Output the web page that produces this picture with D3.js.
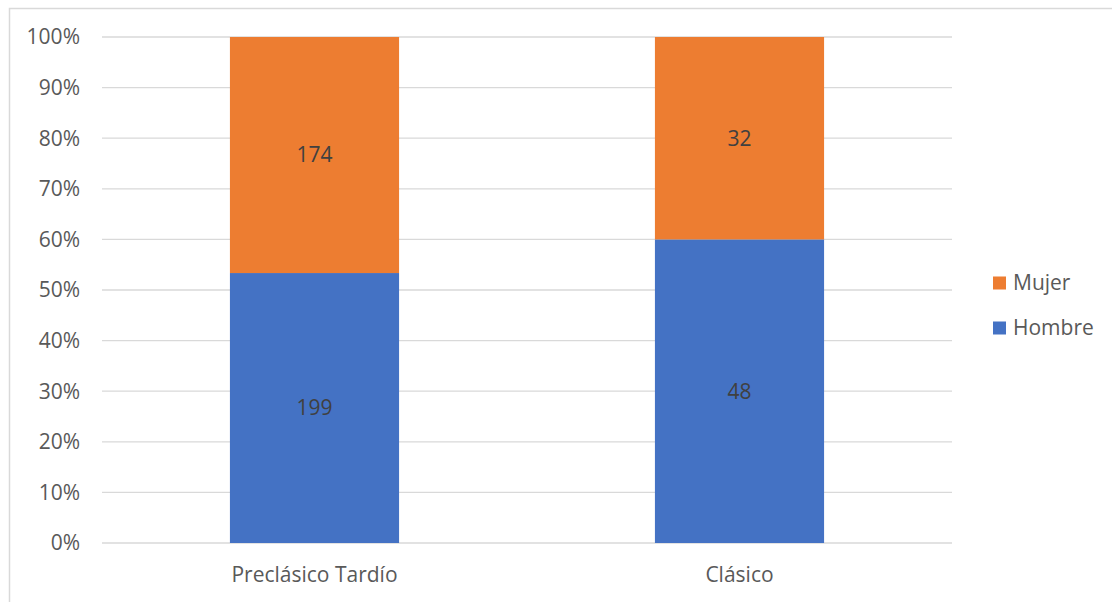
<!DOCTYPE html>
<html>
<head>
<meta charset="utf-8">
<script src="https://cdn.jsdelivr.net/npm/d3@7"></script>
<style>
  body { margin: 0; background: #fff; }
  text { font-family: "Open Sans", Lato, sans-serif; }
</style>
</head>
<body>
<div id="chart"></div>
<script>
const categories = ["Preclásico Tardío", "Clásico"];
const hombre = [199, 48];
const mujer = [174, 32];
const yTicks = [0, 0.1, 0.2, 0.3, 0.4, 0.5, 0.6, 0.7, 0.8, 0.9, 1];

var width = 1112, height = 602;
const svg = d3.select('#chart').append("svg").attr("width", width).attr("height", height);

// chart border (only left/top visible in the picture)
svg.append("rect")
    .attr("x", 9.5).attr("y", 8.5)
    .attr("width", width + 20).attr("height", height + 20)
    .attr("fill", "none").attr("stroke", "#d9d9d9").attr("stroke-width", 1.5);

const plotLeft = 102, plotRight = 952, plotTop = 37, plotBottom = 543;

const x = d3.scaleBand().domain(categories).range([plotLeft, plotRight]).paddingInner(0.602).paddingOuter(0.301);
const y = d3.scaleLinear().domain([0, 1]).range([plotBottom, plotTop]);

// gridlines
svg.append("g").selectAll("line")
    .data(yTicks).enter()
    .append("line")
    .attr("x1", plotLeft).attr("x2", plotRight)
    .attr("y1", d => y(d)).attr("y2", d => y(d))
    .attr("stroke", "#d9d9d9").attr("stroke-width", 1.3);

// y tick labels
svg.append("g").selectAll("text")
    .data(yTicks).enter()
    .append("text")
    .attr("x", 80).attr("y", d => y(d))
    .attr("dy", "0.35em")
    .attr("text-anchor", "end")
    .attr("fill", "#595959")
    .style("font-size", "21px")
    .text(d => d3.format(".0%")(d));

const rows = categories.map((c, i) => ({ cat: c, Hombre: hombre[i], Mujer: mujer[i] }));
const stack = d3.stack().keys(["Hombre", "Mujer"]).offset(d3.stackOffsetExpand);
const series = stack(rows);
const colors = { Hombre: "#4472c4", Mujer: "#ed7d31" };

const groups = svg.append("g").selectAll("g")
    .data(series).enter()
    .append("g")
    .attr("fill", d => colors[d.key]);

groups.selectAll("rect")
    .data(d => d).enter()
    .append("rect")
    .attr("x", d => x(d.data.cat))
    .attr("width", x.bandwidth())
    .attr("y", d => y(d[1]))
    .attr("height", d => y(d[0]) - y(d[1]));

groups.selectAll("text")
    .data(d => d.map(v => Object.assign(v, { key: d.key }))).enter()
    .append("text")
    .attr("x", d => x(d.data.cat) + x.bandwidth() / 2)
    .attr("y", d => y((d[0] + d[1]) / 2))
    .attr("dy", "0.35em")
    .attr("text-anchor", "middle")
    .attr("fill", "#404040")
    .style("font-size", "21px")
    .text(d => d.data[d.key]);

// x labels
svg.append("g").selectAll("text")
    .data(categories).enter()
    .append("text")
    .attr("x", d => x(d) + x.bandwidth() / 2)
    .attr("y", 575)
    .attr("dy", "0.35em")
    .attr("text-anchor", "middle")
    .attr("fill", "#595959")
    .style("font-size", "21px")
    .text(d => d);

// legend
const legendItems = [{ key: "Mujer", y: 283 }, { key: "Hombre", y: 328 }];
const lg = svg.append("g").selectAll("g")
    .data(legendItems).enter()
    .append("g")
    .attr("transform", d => `translate(993, ${d.y})`);
lg.append("rect")
    .attr("x", 0).attr("y", -6.5)
    .attr("width", 13).attr("height", 13)
    .attr("fill", d => colors[d.key]);
lg.append("text")
    .attr("x", 20).attr("dy", "0.35em")
    .attr("fill", "#595959")
    .style("font-size", "21px")
    .text(d => d.key);
</script>
</body>
</html>
